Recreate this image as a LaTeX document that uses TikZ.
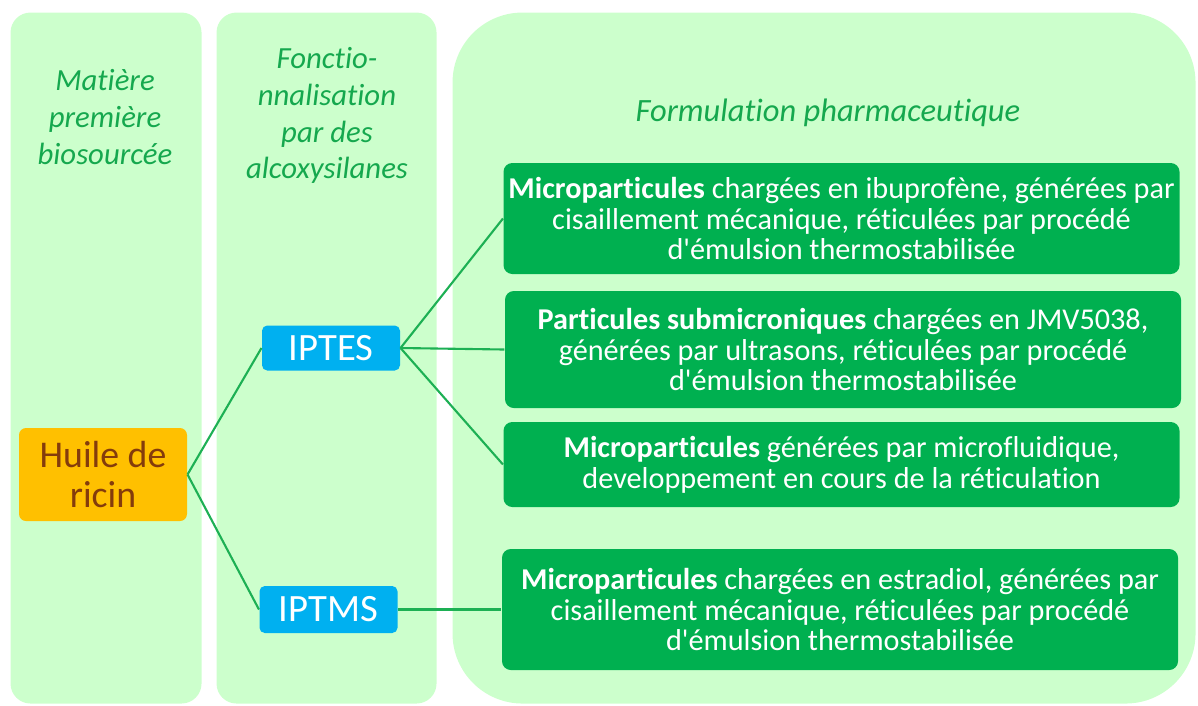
\documentclass[tikz,border=0pt]{standalone}
\usepackage{fontspec}
\setmainfont[Ligatures={NoCommon,TeXOff}]{Carlito}
\usepackage{tikz}
\usetikzlibrary{positioning,calc}
\definecolor{panelgreen}{HTML}{CCFFCC}
\definecolor{formgreen}{HTML}{00B050}
\definecolor{linegreen}{HTML}{1DB054}
\definecolor{titlegreen}{HTML}{15A84E}
\definecolor{oilorange}{HTML}{FFC000}
\definecolor{oilbrown}{HTML}{843C0C}
\definecolor{silblue}{HTML}{00B0F0}

\begin{document}
\begin{tikzpicture}[
  line width=0.6pt,
  % column panels
  panel/.style={fill=panelgreen, draw=none, anchor=north west,
                minimum height=13.82cm, inner sep=0pt},
  coltitle/.style={font=\itshape\fontsize{17.5}{21}\selectfont, text=titlegreen,
                   align=center},
  % boxes
  oilbox/.style={fill=oilorange, rounded corners=4pt, text=oilbrown,
                 align=center, minimum width=3.36cm, minimum height=1.86cm,
                 font=\fontsize{21.5}{22.6}\selectfont},
  silbox/.style={fill=silblue, rounded corners=3pt, text=white,
                 minimum width=2.76cm, minimum height=0.9cm, inner sep=0pt,
                 font=\fontsize{22}{22}\selectfont},
  formbox/.style={fill=formgreen, rounded corners=5pt, text=white,
                  align=center, minimum width=13.52cm, inner sep=2pt,
                  font=\fontsize{17.2}{17.6}\selectfont},
  link/.style={draw=linegreen, line width=1.2pt}
]
  \useasboundingbox (0,0) rectangle (23.96,-14.1);

  % =============================================================
  % Background columns
  % =============================================================
  \node[panel, minimum width=3.82cm, rounded corners=0.4cm] (colRaw) at (0.2,-0.24) {};
  \node[panel, minimum width=4.40cm, rounded corners=0.4cm] (colFunc) at (4.32,-0.24) {};
  \node[panel, minimum width=14.86cm, rounded corners=1.4cm] (colForm) at (9.04,-0.24) {};

  % column titles
  \node[coltitle] (tRaw) at (2.1,-2.34) {Matière\\première\\biosourcée};
  \node[coltitle] (tFunc) at (6.54,-2.31) {Fonctio-\\nnalisation\\par des\\alcoxysilanes};
  \node[coltitle, font=\itshape\fontsize{18.5}{21}\selectfont] (tForm) at (16.56,-2.26)
       {Formulation pharmaceutique};

  % =============================================================
  % Raw material and silanes
  % =============================================================
  \node[oilbox] (ricin) at (2.06,-9.49) {Huile de\\ricin};
  \node[silbox] (iptes) at (6.62,-6.96) {IPTES};
  \node[silbox, minimum height=0.94cm] (iptms) at (6.57,-12.19) {IPTMS};

  % =============================================================
  % Formulations
  % =============================================================
  \node[formbox, minimum height=2.22cm] (fIbu) at (16.83,-4.37)
       {\textbf{Microparticules} chargées en ibuprofène, générées par\\
        cisaillement mécanique, réticulées par procédé\\
        d'émulsion thermostabilisée};
  \node[formbox, minimum height=2.34cm] (fJmv) at (16.86,-6.99)
       {\textbf{Particules submicroniques} chargées en JMV5038,\\
        générées par ultrasons, réticulées par procédé\\
        d'émulsion thermostabilisée};
  \node[formbox, minimum height=1.70cm] (fMicro) at (16.83,-9.29)
       {\textbf{Microparticules} générées par microfluidique,\\
        developpement en cours de la réticulation};
  \node[formbox, minimum height=2.42cm] (fEstra) at (16.80,-12.19)
       {\textbf{Microparticules} chargées en estradiol, générées par\\
        cisaillement mécanique, réticulées par procédé\\
        d'émulsion thermostabilisée};

  % =============================================================
  % Connectors
  % =============================================================
  \draw[link] (ricin.east) -- (iptes.west);
  \draw[link] (ricin.east) -- (iptms.west);
  \draw[link] (iptes.east) -- (fIbu.west);
  \draw[link] (iptes.east) -- (fJmv.west);
  \draw[link] (iptes.east) -- (fMicro.west);
  \draw[link] (iptms.east) -- (fEstra.west);
\end{tikzpicture}
\end{document}
